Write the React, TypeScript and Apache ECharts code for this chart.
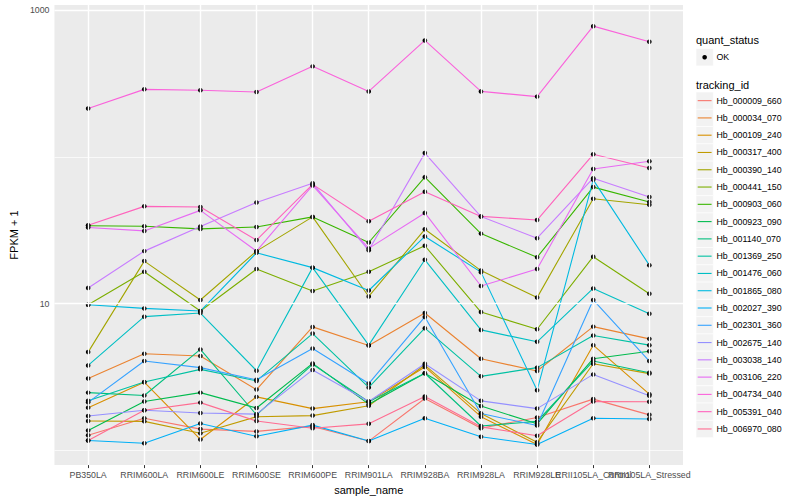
import React, { useEffect, useRef } from "react";
import * as echarts from "echarts";

const sampleNames = [
  "PB350LA", "RRIM600LA", "RRIM600LE", "RRIM600SE", "RRIM600PE", "RRIM901LA",
  "RRIM928BA", "RRIM928LA", "RRIM928LE", "RRII105LA_Control", "RRII105LA_Stressed",
];

const trackingIds = [
  "Hb_000009_660", "Hb_000034_070", "Hb_000109_240", "Hb_000317_400", "Hb_000390_140",
  "Hb_000441_150", "Hb_000903_060", "Hb_000923_090", "Hb_001140_070", "Hb_001369_250",
  "Hb_001476_060", "Hb_001865_080", "Hb_002027_390", "Hb_002301_360", "Hb_002675_140",
  "Hb_003038_140", "Hb_003106_220", "Hb_004734_040", "Hb_005391_040", "Hb_006970_080",
];

const trackingColors = [
  "#F8766D", "#EA8331", "#D89000", "#C09B00", "#A3A500",
  "#7CAE00", "#39B600", "#00BB4E", "#00BF7D", "#00C1A3",
  "#00BFC4", "#00BAE0", "#00B0F6", "#35A2FF", "#9590FF",
  "#C77CFF", "#E76BF3", "#FA62DB", "#FF62BC", "#FF6C91",
];

// FPKM + 1 per sample, one array per tracking id
const hb000009_660 = [1.27, 1.66, 1.40, 1.35, 1.46, 1.16, 2.26, 1.42, 1.68, 2.24, 1.75];
const hb000034_070 = [3.09, 4.56, 4.40, 2.60, 6.95, 5.19, 8.64, 4.22, 3.48, 6.98, 5.76];
const hb000109_240 = [1.96, 2.92, 1.19, 2.32, 1.93, 2.15, 3.71, 1.70, 1.10, 5.22, 2.42];
const hb000317_400 = [1.59, 1.58, 1.31, 1.70, 1.73, 2.02, 3.82, 1.79, 1.14, 3.90, 3.34];
const hb000390_140 = [4.68, 19.5, 10.6, 22.8, 39.0, 11.2, 32.1, 16.8, 11.0, 51.8, 47.2];
const hb000441_150 = [9.83, 16.5, 8.91, 17.2, 12.2, 16.5, 24.8, 8.77, 6.70, 20.9, 11.7];
const hb000903_060 = [33.9, 33.7, 32.3, 33.3, 39.0, 26.1, 72.7, 30.0, 20.7, 62.2, 49.2];
const hb000923_090 = [1.37, 2.16, 2.48, 1.95, 3.92, 2.07, 3.36, 2.01, 1.52, 4.22, 4.74];
const hb001140_070 = [2.48, 2.37, 4.88, 1.75, 3.86, 2.15, 3.36, 1.47, 1.58, 4.07, 3.39];
const hb001369_250 = [2.18, 2.93, 3.57, 2.98, 6.26, 2.69, 6.81, 3.20, 3.67, 6.07, 5.22];
const hb001476_060 = [3.80, 8.16, 8.64, 3.50, 17.6, 5.22, 19.9, 6.63, 5.50, 12.7, 8.54];
const hb001865_080 = [9.83, 9.29, 8.91, 22.2, 17.6, 12.3, 28.7, 16.4, 2.57, 69.7, 18.3];
const hb002027_390 = [1.17, 1.12, 1.53, 1.25, 1.49, 1.16, 1.66, 1.24, 1.10, 1.66, 1.64];
const hb002301_360 = [2.13, 4.07, 3.67, 3.03, 4.95, 2.86, 8.12, 1.79, 1.48, 10.6, 4.07];
const hb002675_140 = [1.72, 1.88, 1.80, 1.77, 3.54, 2.16, 3.90, 2.18, 1.93, 3.30, 2.36];
const hb003038_140 = [12.8, 22.8, 33.5, 48.9, 66.0, 23.1, 106, 39.2, 27.9, 71.5, 53.2];
const hb003106_220 = [33.0, 31.3, 43.2, 22.8, 63.9, 23.8, 41.5, 13.2, 17.2, 82.7, 93.2];
const hb004734_040 = [213, 288, 284, 276, 413, 279, 620, 279, 257, 776, 608];
const hb005391_040 = [34.2, 46.0, 45.5, 27.1, 64.9, 36.4, 57.8, 39.3, 37.1, 104, 84.0];
const hb006970_080 = [1.17, 1.88, 2.12, 1.59, 1.42, 1.52, 2.33, 1.45, 1.26, 2.16, 2.15];

const trackingValues = [
  hb000009_660, hb000034_070, hb000109_240, hb000317_400, hb000390_140,
  hb000441_150, hb000903_060, hb000923_090, hb001140_070, hb001369_250,
  hb001476_060, hb001865_080, hb002027_390, hb002301_360, hb002675_140,
  hb003038_140, hb003106_220, hb004734_040, hb005391_040, hb006970_080,
];

const quantStatus = ["OK"];
const yMajorTicks = [10, 1000];
const yMinorBreaks = [1, 100];
const yRange = [0.796, 1081];
const xRange = [-0.6, 10.6];

const FONT = "'Liberation Sans', Arial, Helvetica, sans-serif";

function buildOption() {
  const xIdx = sampleNames.map((_, i) => i);
  // padding entries at both ends keep the axis from dropping the crowded end labels
  const xLabelValues = [xRange[0], ...xIdx, xRange[1]];

  const gridLines = {
    name: "__grid",
    type: "line",
    data: [],
    silent: true,
    z: 1,
    markLine: {
      silent: true,
      symbol: ["none", "none"],
      label: { show: false },
      emphasis: { disabled: true },
      lineStyle: { color: "#FFFFFF", type: "solid", width: 1.4 },
      data: [
        ...yMinorBreaks.map((v) => ({ yAxis: v, lineStyle: { color: "#FFFFFF", type: "solid", width: 0.7 } })),
        ...yMajorTicks.map((v) => ({ yAxis: v, lineStyle: { color: "#FFFFFF", type: "solid", width: 1.4 } })),
        ...xIdx.map((i) => ({ xAxis: i, lineStyle: { color: "#FFFFFF", type: "solid", width: 1.4 } })),
      ],
    },
  };

  const lines = trackingIds.map((id, k) => ({
    name: id,
    type: "line",
    data: trackingValues[k].map((v, i) => [i, v]),
    symbol: "none",
    showSymbol: false,
    lineStyle: { color: trackingColors[k], width: 1.1 },
    itemStyle: { color: trackingColors[k] },
    z: 2,
    silent: true,
  }));

  const points = {
    name: quantStatus[0],
    type: "scatter",
    data: trackingValues.flatMap((arr) => arr.map((v, i) => [i, v])),
    symbol: "circle",
    symbolSize: 4.6,
    itemStyle: { color: "#000000", opacity: 1, borderWidth: 0 },
    z: 4,
    silent: true,
  };

  const legendX = 696;
  const keySize = 17.28;
  const keysTop = 92;
  const legendChildren: any[] = [
    { type: "text", x: legendX, y: 40, style: { text: "quant_status", fontSize: 11, fontFamily: FONT, fill: "#000", verticalAlign: "middle" } },
    { type: "rect", shape: { x: legendX, y: 48.6, width: keySize, height: keySize }, style: { fill: "#F2F2F2", stroke: "#FFFFFF", lineWidth: 0.6 } },
    { type: "circle", shape: { cx: legendX + keySize / 2, cy: 48.6 + keySize / 2, r: 2.3 }, style: { fill: "#000" } },
    { type: "text", x: legendX + 20.5, y: 48.6 + keySize / 2, style: { text: quantStatus[0], fontSize: 8.8, fontFamily: FONT, fill: "#000", verticalAlign: "middle" } },
    { type: "text", x: legendX, y: 84.5, style: { text: "tracking_id", fontSize: 11, fontFamily: FONT, fill: "#000", verticalAlign: "middle" } },
  ];
  trackingIds.forEach((id, k) => {
    const top = keysTop + k * keySize;
    legendChildren.push(
      { type: "rect", shape: { x: legendX, y: top, width: keySize, height: keySize }, style: { fill: "#F2F2F2", stroke: "#FFFFFF", lineWidth: 0.6 } },
      { type: "line", shape: { x1: legendX + 1.7, y1: top + keySize / 2, x2: legendX + keySize - 1.7, y2: top + keySize / 2 }, style: { stroke: trackingColors[k], lineWidth: 1.1 } },
      { type: "text", x: legendX + 20.5, y: top + keySize / 2, style: { text: id, fontSize: 8.8, fontFamily: FONT, fill: "#000", verticalAlign: "middle" } },
    );
  });

  return {
    animation: false,
    backgroundColor: "#FFFFFF",
    textStyle: { fontFamily: FONT },
    grid: { left: 45, right: 117, top: 5, bottom: 32, show: true, backgroundColor: "#EBEBEB", borderWidth: 0 },
    xAxis: {
      type: "value",
      min: xRange[0],
      max: xRange[1],
      splitLine: { show: false },
      axisLine: { show: false },
      axisTick: { show: true, length: 3, customValues: xIdx, lineStyle: { color: "#333333", width: 1 } },
      axisLabel: {
        customValues: xLabelValues,
        formatter: (v: number) => (Number.isInteger(v) ? sampleNames[v] ?? "" : ""),
        color: "#4D4D4D",
        fontSize: 8.8,
        margin: 5,
        hideOverlap: false,
      },
      name: "sample_name",
      nameLocation: "middle",
      nameGap: 15,
      nameTextStyle: { color: "#000", fontSize: 11 },
    },
    yAxis: {
      type: "log",
      logBase: 10,
      min: yRange[0],
      max: yRange[1],
      splitLine: { show: false },
      axisLine: { show: false },
      axisTick: { show: true, length: 3, customValues: yMajorTicks, lineStyle: { color: "#333333", width: 1 } },
      axisLabel: {
        customValues: yMajorTicks,
        formatter: (v: number) => String(Math.round(v)),
        color: "#4D4D4D",
        fontSize: 8.8,
        margin: 5,
        showMinLabel: true,
        showMaxLabel: true,
      },
      name: "FPKM + 1",
      nameLocation: "middle",
      nameGap: 28,
      nameTextStyle: { color: "#000", fontSize: 11 },
    },
    series: [gridLines, ...lines, points],
    graphic: [{ type: "group", children: legendChildren }],
  };
}

export default function App() {
  const ref = useRef<HTMLDivElement>(null);
  useEffect(() => {
    document.body.style.margin = "0";
    const chart = echarts.init(ref.current as HTMLDivElement, null, { renderer: "svg" });
    chart.setOption(buildOption() as any);
    return () => chart.dispose();
  }, []);
  return <div ref={ref} style={{ position: "fixed", left: 0, top: 0, width: 800, height: 500, background: "#fff" }} />;
}
